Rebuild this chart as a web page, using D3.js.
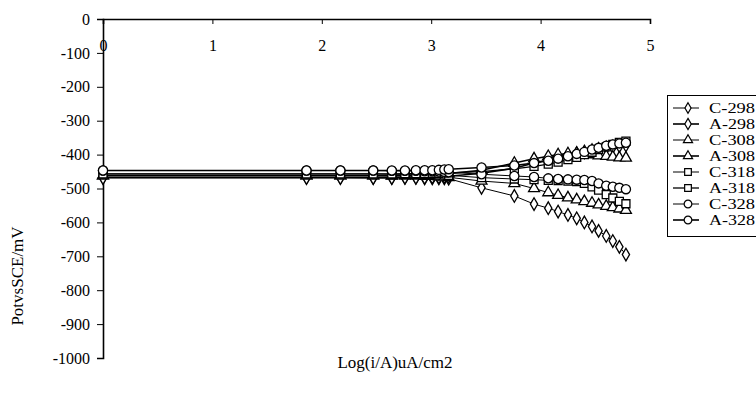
<!DOCTYPE html>
<html>
<head>
<meta charset="utf-8">
<script src="https://cdn.jsdelivr.net/npm/d3@7"></script>
<style>
  body { margin: 0; background: #fff; }
  svg { display: block; font-family: "Liberation Serif", "DejaVu Serif", serif; }
</style>
</head>
<body>
<div class="canvas"></div>
<script>
// Log(i/A) values shared by every curve
const logI = [0, 1.86, 2.17, 2.47, 2.64, 2.76, 2.86, 2.94, 3.01, 3.07, 3.12, 3.16,
  3.46, 3.76, 3.94, 4.07, 4.16, 4.25, 4.33, 4.40, 4.47, 4.53, 4.60, 4.66, 4.72, 4.78];

// Potential (mV vs SCE) for each curve
const c298 = [-468, -468, -468, -469, -469, -469, -469, -470, -470, -470, -470, -471,
  -498, -522, -546, -558, -568, -578, -588, -600, -612, -625, -640, -655, -672, -695];
const a298 = [-468, -468, -468, -468, -468, -467, -467, -467, -466, -466, -465, -464,
  -455, -440, -425, -415, -408, -402, -397, -392, -388, -384, -380, -377, -374, -372];
const c308 = [-462, -462, -462, -462, -463, -463, -463, -464, -464, -465, -466, -467,
  -478, -485, -500, -512, -520, -527, -533, -538, -543, -548, -552, -556, -560, -564];
const a308 = [-462, -462, -462, -462, -462, -461, -461, -460, -459, -458, -457, -456,
  -446, -425, -412, -405, -400, -397, -396, -398, -400, -403, -405, -407, -409, -410];
const c318 = [-457, -457, -457, -457, -458, -458, -458, -459, -459, -460, -460, -461,
  -468, -472, -474, -476, -477, -478, -480, -485, -495, -505, -518, -528, -538, -545];
const a318 = [-457, -457, -457, -457, -457, -456, -456, -456, -455, -455, -454, -454,
  -450, -442, -435, -428, -422, -415, -408, -400, -393, -385, -377, -370, -364, -360];
const c328 = [-447, -447, -447, -447, -448, -448, -448, -449, -449, -450, -451, -452,
  -458, -463, -466, -470, -472, -473, -474, -475, -478, -485, -492, -495, -498, -502];
const a328 = [-447, -447, -447, -447, -447, -447, -446, -446, -446, -445, -444, -443,
  -438, -432, -425, -418, -412, -405, -398, -392, -385, -380, -374, -370, -367, -365];

const seriesNames = ['C-298', 'A-298', 'C-308', 'A-308', 'C-318', 'A-318', 'C-328', 'A-328'];
const seriesValues = [c298, a298, c308, a308, c318, a318, c328, a328];

// Tick labels
const xTicks = [0, 1, 2, 3, 4, 5];
const yTicks = [0, -100, -200, -300, -400, -500, -600, -700, -800, -900, -1000];

// Marker per series
const symbols = [d3.symbolDiamond, d3.symbolDiamond, d3.symbolTriangle, d3.symbolTriangle,
  d3.symbolSquare, d3.symbolSquare, d3.symbolCircle, d3.symbolCircle];
const symbolSizes = [46, 52, 52, 52, 64, 64, 66, 66];
const lineWidths = [1, 1.6, 1, 1.6, 1, 1.3, 1, 1.6];

const svgWidth = 756;
const svgHeight = 412;

const svg = d3.select('.canvas').append('svg')
  .attr('width', svgWidth)
  .attr('height', svgHeight);

// Scales
const xScale = d3.scaleLinear().domain([0, 5]).range([103, 650]);
const yScale = d3.scaleLinear().domain([-1000, 0]).range([358, 19]);

// Axes
const yAxis = d3.axisLeft(yScale).tickValues(yTicks).tickSize(6).tickPadding(7)
  .tickFormat(d => String(d));
svg.append('g')
  .attr('transform', 'translate(' + xScale(0) + ',0)')
  .call(yAxis)
  .call(g => g.select('.domain').attr('stroke-width', 1.6))
  .call(g => g.selectAll('text').attr('font-size', 16).attr('fill', '#000')
    .attr('font-family', '"Liberation Serif", serif'));

const xAxis = d3.axisBottom(xScale).tickValues(xTicks).tickSize(5).tickPadding(16)
  .tickFormat(d3.format('d'));
svg.append('g')
  .attr('transform', 'translate(0,' + yScale(0) + ')')
  .call(xAxis)
  .call(g => g.select('.domain').attr('stroke-width', 1.6))
  .call(g => g.selectAll('text').attr('font-size', 16).attr('fill', '#000')
    .attr('font-family', '"Liberation Serif", serif'));

// Axis titles
svg.append('text')
  .attr('transform', 'translate(23,276)rotate(-90)')
  .attr('text-anchor', 'middle')
  .attr('font-size', 17)
  .text('PotvsSCE/mV');

svg.append('text')
  .attr('x', 395)
  .attr('y', 368)
  .attr('text-anchor', 'middle')
  .attr('font-size', 17)
  .text('Log(i/A)uA/cm2');

// Curves
const line = d3.line()
  .x((d, i) => xScale(logI[i]))
  .y(d => yScale(d));

seriesValues.forEach((vals, k) => {
  const g = svg.append('g').attr('class', 'series');
  g.append('path')
    .attr('d', line(vals))
    .attr('fill', 'none')
    .attr('stroke', '#000')
    .attr('stroke-width', lineWidths[k]);
  g.selectAll('path.mark')
    .data(vals)
    .enter()
    .append('path')
    .attr('class', 'mark')
    .attr('d', d3.symbol().type(symbols[k]).size(symbolSizes[k]))
    .attr('transform', (d, i) => 'translate(' + xScale(logI[i]) + ',' + yScale(d) + ')')
    .attr('fill', '#fff')
    .attr('stroke', '#000')
    .attr('stroke-width', 1.3);
});

// Legend
const legend = svg.append('g');
legend.append('rect')
  .attr('x', 667.5)
  .attr('y', 95.5)
  .attr('width', 100)
  .attr('height', 141)
  .attr('fill', '#fff')
  .attr('stroke', '#000')
  .attr('stroke-width', 1);

const legendY = d3.scalePoint().domain(seriesNames).range([108, 220]);

seriesNames.forEach((name, k) => {
  const y = legendY(name);
  legend.append('line')
    .attr('x1', 673).attr('x2', 699)
    .attr('y1', y).attr('y2', y)
    .attr('stroke', '#000')
    .attr('stroke-width', lineWidths[k]);
  legend.append('path')
    .attr('d', d3.symbol().type(symbols[k]).size(symbolSizes[k] * 0.7))
    .attr('transform', 'translate(688,' + y + ')')
    .attr('fill', '#fff')
    .attr('stroke', '#000')
    .attr('stroke-width', 1.2);
  legend.append('text')
    .attr('x', 709)
    .attr('y', y + 5)
    .attr('font-size', 14)
    .attr('textLength', 46)
    .attr('lengthAdjust', 'spacingAndGlyphs')
    .text(name);
});
</script>
</body>
</html>
